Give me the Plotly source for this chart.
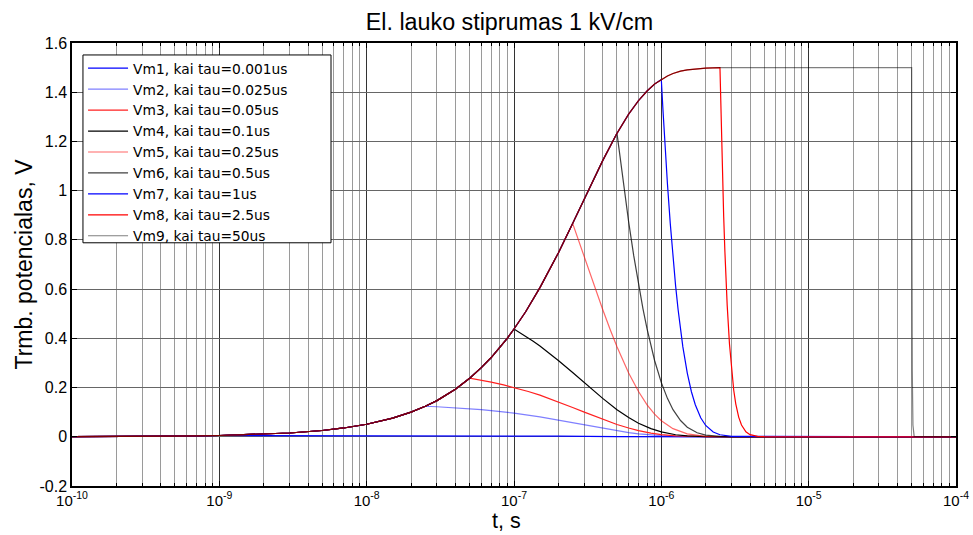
import plotly.graph_objects as go

# ---- data ----
# common charging curve (all series follow it until their pulse ends)
rise_t = [1e-10, 2e-10, 5e-10, 1e-9, 2e-9, 3e-9, 5e-9, 7e-9, 1e-8, 1.5e-8, 2e-8, 2.5e-8,
          3e-8, 4e-8, 5e-8, 6e-8, 7e-8, 8e-8, 9e-8, 1e-7, 1.2e-7, 1.5e-7, 2e-7, 2.5e-7, 3e-7,
          3.5e-7, 4e-7, 5e-7, 6e-7, 7e-7, 8e-7, 9e-7, 1e-6, 1.1e-6, 1.2e-6, 1.35e-6, 1.5e-6,
          1.75e-6, 2e-6, 2.5e-6, 5e-6, 1e-5, 2e-5, 5e-5]
rise_v = [0.0005, 0.0010, 0.0026, 0.0052, 0.0103, 0.0154, 0.0256, 0.0358, 0.0508, 0.0756,
          0.100, 0.124, 0.147, 0.193, 0.238, 0.281, 0.322, 0.362, 0.400, 0.438, 0.508, 0.606,
          0.747, 0.867, 0.967, 1.051, 1.122, 1.233, 1.311, 1.366, 1.405, 1.433, 1.452, 1.466,
          1.476, 1.486, 1.491, 1.496, 1.498, 1.500, 1.500, 1.500, 1.500, 1.500]

names = ["Vm1, kai tau=0.001us", "Vm2, kai tau=0.025us", "Vm3, kai tau=0.05us",
         "Vm4, kai tau=0.1us", "Vm5, kai tau=0.25us", "Vm6, kai tau=0.5us",
         "Vm7, kai tau=1us", "Vm8, kai tau=2.5us", "Vm9, kai tau=50us"]
taus = [1e-9, 2.5e-8, 5e-8, 1e-7, 2.5e-7, 5e-7, 1e-6, 2.5e-6, 5e-5]

# decay after each pulse ends
vm1_t = [2e-9, 1e-8, 3e-8, 1e-7, 2e-7, 5e-7, 1e-6, 3e-6, 1e-4]
vm1_v = [0.0052, 0.0050, 0.0048, 0.0037, 0.0026, 0.0009, 0.0002, 0.0, 0.0]
vm2_t = [3e-8, 4e-8, 5e-8, 6e-8, 7e-8, 8.5e-8, 1e-7, 1.5e-7, 2e-7, 2.5e-7, 3e-7, 4e-7, 5e-7,
         6e-7, 7e-7, 8.5e-7, 1e-6, 1.25e-6, 1.5e-6, 2e-6, 1e-4]
vm2_v = [0.122, 0.118, 0.114, 0.110, 0.106, 0.101, 0.096, 0.081, 0.068, 0.057, 0.048, 0.034,
         0.024, 0.0171, 0.012, 0.0072, 0.0043, 0.0018, 0.0008, 0.0001, 0.0]
vm3_t = [5.5e-8, 6e-8, 7e-8, 8.5e-8, 1e-7, 1.25e-7, 1.5e-7, 2e-7, 2.5e-7, 3e-7, 4e-7, 5e-7,
         6e-7, 7e-7, 8.5e-7, 1e-6, 1.25e-6, 1.5e-6, 2e-6, 1e-4]
vm3_v = [0.234, 0.230, 0.222, 0.211, 0.200, 0.184, 0.169, 0.142, 0.119, 0.100, 0.071, 0.050,
         0.0357, 0.025, 0.0151, 0.009, 0.0038, 0.0016, 0.0003, 0.0]
vm4_t = [1.1e-7, 1.2e-7, 1.35e-7, 1.5e-7, 1.75e-7, 2e-7, 2.5e-7, 3e-7, 3.5e-7, 4e-7, 5e-7,
         6e-7, 7e-7, 8.5e-7, 1e-6, 1.25e-6, 1.5e-6, 2e-6, 3e-6, 1e-4]
vm4_v = [0.423, 0.409, 0.388, 0.369, 0.338, 0.310, 0.261, 0.220, 0.185, 0.156, 0.110,
         0.078, 0.055, 0.033, 0.020, 0.0083, 0.0035, 0.0006, 0.0, 0.0]
vm5_t = [2.75e-7, 3e-7, 3.25e-7, 3.5e-7, 4e-7, 4.5e-7, 5e-7, 6e-7, 7e-7, 8e-7, 9e-7, 1e-6,
         1.2e-6, 1.5e-6, 2e-6, 3e-6, 1e-4]
vm5_v = [0.795, 0.730, 0.669, 0.614, 0.517, 0.435, 0.366, 0.259, 0.184, 0.130, 0.092, 0.065,
         0.033, 0.012, 0.002, 0.0001, 0.0]
vm6_t = [5.25e-7, 5.5e-7, 5.75e-7, 6e-7, 6.5e-7, 7e-7, 7.5e-7, 8e-7, 9e-7, 1e-6, 1.1e-6,
         1.2e-6, 1.35e-6, 1.5e-6, 1.75e-6, 2e-6, 2.5e-6, 3e-6, 1e-4]
vm6_v = [1.131, 1.038, 0.952, 0.873, 0.735, 0.619, 0.521, 0.438, 0.310, 0.220, 0.156,
         0.110, 0.066, 0.039, 0.0165, 0.007, 0.0013, 0.0002, 0.0]
vm7_t = [1.025e-6, 1.05e-6, 1.075e-6, 1.1e-6, 1.15e-6, 1.2e-6, 1.25e-6, 1.3e-6, 1.4e-6,
         1.5e-6, 1.6e-6, 1.7e-6, 1.85e-6, 2e-6, 2.25e-6, 2.5e-6, 3e-6, 1e-4]
vm7_v = [1.332, 1.222, 1.121, 1.028, 0.866, 0.729, 0.613, 0.516, 0.365, 0.259, 0.183,
         0.130, 0.077, 0.046, 0.0195, 0.0082, 0.0015, 0.0]
vm8_t = [2.525e-6, 2.55e-6, 2.575e-6, 2.6e-6, 2.65e-6, 2.7e-6, 2.75e-6, 2.8e-6, 2.9e-6,
         3e-6, 3.1e-6, 3.2e-6, 3.35e-6, 3.5e-6, 3.75e-6, 4e-6, 4.5e-6, 5e-6, 1e-4]
vm8_v = [1.376, 1.262, 1.158, 1.062, 0.894, 0.753, 0.633, 0.533, 0.378, 0.267, 0.189,
         0.134, 0.080, 0.048, 0.020, 0.0085, 0.0015, 0.0003, 0.0]
vm9_t = [5.005e-5, 5.01e-5, 5.02e-5, 5.05e-5, 5.1e-5, 5.2e-5, 1e-4]
vm9_v = [1.262, 1.062, 0.753, 0.267, 0.048, 0.0015, 0.0]

decays = [(vm1_t, vm1_v), (vm2_t, vm2_v), (vm3_t, vm3_v), (vm4_t, vm4_v), (vm5_t, vm5_v),
          (vm6_t, vm6_v), (vm7_t, vm7_v), (vm8_t, vm8_v), (vm9_t, vm9_v)]

colors = ["#0000ff", "rgba(0,0,255,0.5)", "#ff2020", "#000000", "rgba(255,0,0,0.6)",
          "rgba(0,0,0,0.75)", "#0000ff", "#ff0000", "rgba(0,0,0,0.5)"]

x_major = [1e-10, 1e-9, 1e-8, 1e-7, 1e-6, 1e-5, 1e-4]
x_major_text = ["10<sup>-10</sup>", "10<sup>-9</sup>", "10<sup>-8</sup>", "10<sup>-7</sup>",
                "10<sup>-6</sup>", "10<sup>-5</sup>", "10<sup>-4</sup>"]
x_minor = [m * d for d in x_major[:-1] for m in range(2, 10)]
y_ticks = [-0.2, 0, 0.2, 0.4, 0.6, 0.8, 1.0, 1.2, 1.4, 1.6]
y_text = ["-0.2", "0", "0.2", "0.4", "0.6", "0.8", "1", "1.2", "1.4", "1.6"]

FONT = "Liberation Sans, Arial, sans-serif"

fig = go.Figure()
for name, tau, (dt, dv), col in zip(names, taus, decays, colors):
    xs = [t for t in rise_t if t <= tau] + dt
    ys = [v for t, v in zip(rise_t, rise_v) if t <= tau] + dv
    fig.add_trace(go.Scatter(x=xs, y=ys, mode="lines", name=name,
                             line=dict(color=col, width=1.2)))

# legend frame (MATLAB-style box)
fig.add_shape(type="rect", xref="paper", yref="paper",
              x0=0.0124, x1=0.293, y0=0.549, y1=0.973,
              line=dict(color="black", width=1), fillcolor="white", layer="above")

# x-axis title as a free annotation (placed below the tick labels)
fig.add_annotation(text="t, s", xref="paper", yref="paper", x=0.492, y=-0.079,
                   xanchor="center", yanchor="middle", showarrow=False, borderpad=0,
                   font=dict(size=21.5, family=FONT, color="black"))

fig.update_layout(
    width=973, height=535,
    margin=dict(l=72, r=17, t=43, b=49, autoexpand=False),
    paper_bgcolor="white", plot_bgcolor="white",
    font=dict(family=FONT, color="black", size=15),
    title=dict(text="El. lauko stiprumas 1 kV/cm", x=0.5236, xanchor="center",
               y=0.96, yanchor="middle", font=dict(size=23.3, family=FONT)),
    legend=dict(x=0.0125, y=0.978, xanchor="left", yanchor="top",
                bgcolor="rgba(0,0,0,0)", borderwidth=0,
                font=dict(size=13.8, family="DejaVu Sans, Liberation Sans, sans-serif"),
                tracegroupgap=0, itemwidth=40),
    showlegend=True,
)

fig.update_xaxes(
    type="log", range=[-10, -4], automargin=False,
    tickmode="array", tickvals=x_major, ticktext=x_major_text,
    showgrid=True, gridcolor="#333333", gridwidth=1,
    ticks="inside", ticklen=5, tickcolor="black",
    showline=True, linecolor="black", linewidth=1.5, mirror="allticks",
    tickfont=dict(size=15, family=FONT),
    minor=dict(tickmode="array", tickvals=x_minor, showgrid=True, gridcolor="#9a9a9a",
               gridwidth=1, ticks="inside", ticklen=3, tickcolor="black"),
    zeroline=False,
)
fig.update_yaxes(
    range=[-0.2, 1.6], automargin=False,
    tickmode="array", tickvals=y_ticks, ticktext=y_text,
    showgrid=True, gridcolor="#666666", gridwidth=1,
    ticks="inside", ticklen=5, tickcolor="black",
    showline=True, linecolor="black", linewidth=1.5, mirror="allticks",
    tickfont=dict(size=16, family=FONT),
    title=dict(text="Trmb. potencialas, V", font=dict(size=23, family=FONT), standoff=0),
    zeroline=False,
)

fig.write_html("out.html")
